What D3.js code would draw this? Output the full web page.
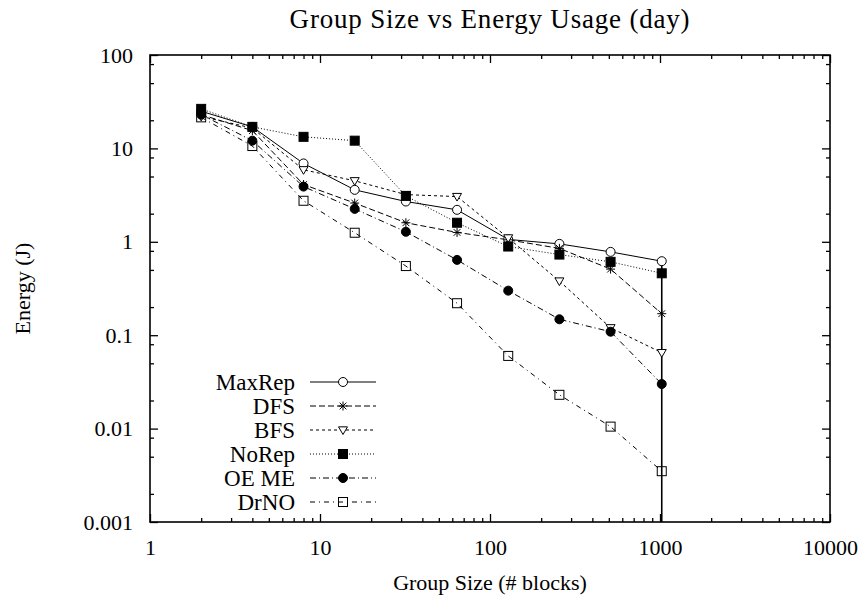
<!DOCTYPE html>
<meta charset="utf-8" />
<style>
  body { margin: 0; background: #fff; }
  svg { font-family: "Liberation Serif", "DejaVu Serif", serif; }
  .frame { fill: none; stroke: #000; stroke-width: 1.6; }
  .axis path { display: none; }
  .axis line { stroke: #000; stroke-width: 1.3; }
  .axis text { font-family: "Liberation Serif", serif; font-size: 22px; fill: #000; }
  .series { fill: none; stroke: #000; stroke-width: 1; }
</style>
<body>
  <div id="chart"></div>
  <script src="https://cdn.jsdelivr.net/npm/d3@7"></script>
  <script>
    // group sizes (# blocks) and energy per series (J)
    const groupSizes = [2, 4, 8, 16, 32, 64, 128, 256, 512, 1024];
    const maxRep = [25, 17, 6.9, 3.6, 2.7, 2.2, 1.06, 0.95, 0.78, 0.62];
    const dfs = [23, 15.5, 4.1, 2.6, 1.6, 1.26, 1.05, 0.85, 0.51, 0.17];
    const bfs = [22, 16.5, 5.9, 4.5, 3.2, 3.05, 1.1, 0.38, 0.12, 0.065];
    const noRep = [26.5, 17, 13.3, 12.1, 3.1, 1.6, 0.89, 0.73, 0.61, 0.46];
    const oeMe = [23, 12.1, 3.9, 2.25, 1.28, 0.64, 0.3, 0.148, 0.109, 0.03];
    const drNo = [21.5, 10.6, 2.75, 1.25, 0.55, 0.22, 0.06, 0.023, 0.0105, 0.0035];

    const xMajor = [1, 10, 100, 1000, 10000];
    const yMajor = [0.001, 0.01, 0.1, 1, 10, 100];
    const yLabels = ["0.001", "0.01", "0.1", "1", "10", "100"];

    const series = [
      { name: "MaxRep", values: maxRep, dash: null, marker: "circle" },
      { name: "DFS", values: dfs, dash: "6,3", marker: "star" },
      { name: "BFS", values: bfs, dash: "3,3", marker: "triangle" },
      { name: "NoRep", values: noRep, dash: "1,2", marker: "fsquare" },
      { name: "OE ME", values: oeMe, dash: "6,3,1,3", marker: "fcircle" },
      { name: "DrNO", values: drNo, dash: "5,4,1,4", marker: "square" },
    ];

    const width = 867, height = 599;
    const margin = { top: 55, right: 37, bottom: 77, left: 150 };
    const iw = width - margin.left - margin.right;
    const ih = height - margin.top - margin.bottom;

    const svg = d3.select("#chart").append("svg")
      .attr("width", width).attr("height", height);

    const x = d3.scaleLog().domain([1, 10000]).range([0, iw]);
    const y = d3.scaleLog().domain([0.001, 100]).range([ih, 0]);

    const g = svg.append("g").attr("transform", `translate(${margin.left},${margin.top})`);

    // minor ticks: x at 2..9, y at 2,5,8 of each decade
    const xMinor = [];
    for (let d = 1; d < 10000; d *= 10) for (let k = 2; k <= 9; k++) xMinor.push(d * k);
    const yMinor = [];
    for (let d = 0.001; d < 99; d *= 10) [2, 5, 8].forEach((k) => yMinor.push(+(d * k).toPrecision(3)));

    g.append("g").attr("class", "axis").attr("transform", `translate(0,${ih})`)
      .call(d3.axisBottom(x).tickValues(xMajor).tickSize(-8).tickPadding(17).tickFormat(d3.format("d")));
    g.append("g").attr("class", "axis").attr("transform", `translate(0,${ih})`)
      .call(d3.axisBottom(x).tickValues(xMinor).tickSize(-4).tickFormat(""));
    g.append("g").attr("class", "axis")
      .call(d3.axisTop(x).tickValues(xMajor).tickSize(-8).tickFormat(""));
    g.append("g").attr("class", "axis")
      .call(d3.axisTop(x).tickValues(xMinor).tickSize(-4).tickFormat(""));

    g.append("g").attr("class", "axis")
      .call(d3.axisLeft(y).tickValues(yMajor).tickSize(-8).tickPadding(17)
        .tickFormat((d, i) => yLabels[i]));
    g.append("g").attr("class", "axis")
      .call(d3.axisLeft(y).tickValues(yMinor).tickSize(-4).tickFormat(""));
    g.append("g").attr("class", "axis").attr("transform", `translate(${iw},0)`)
      .call(d3.axisRight(y).tickValues(yMajor).tickSize(-8).tickFormat(""));
    g.append("g").attr("class", "axis").attr("transform", `translate(${iw},0)`)
      .call(d3.axisRight(y).tickValues(yMinor).tickSize(-4).tickFormat(""));

    g.append("rect").attr("class", "frame").attr("width", iw).attr("height", ih);

    const drawMarker = (sel, type, cx, cy) => {
      const s = 4.5;
      if (type === "circle" || type === "fcircle") {
        sel.append("circle").attr("cx", cx).attr("cy", cy).attr("r", s)
          .attr("fill", type === "fcircle" ? "#000" : "#fff").attr("stroke", "#000");
      } else if (type === "square" || type === "fsquare") {
        sel.append("rect").attr("x", cx - s).attr("y", cy - s).attr("width", 2 * s).attr("height", 2 * s)
          .attr("fill", type === "fsquare" ? "#000" : "none").attr("stroke", "#000");
      } else if (type === "triangle") {
        sel.append("path")
          .attr("d", `M${cx - s},${cy - s * 0.7}L${cx + s},${cy - s * 0.7}L${cx},${cy + s}Z`)
          .attr("fill", "#fff").attr("stroke", "#000");
      } else if (type === "star") {
        sel.append("path")
          .attr("d", `M${cx - s},${cy}L${cx + s},${cy}M${cx},${cy - s}L${cx},${cy + s}` +
            `M${cx - s * 0.75},${cy - s * 0.75}L${cx + s * 0.75},${cy + s * 0.75}` +
            `M${cx - s * 0.75},${cy + s * 0.75}L${cx + s * 0.75},${cy - s * 0.75}`)
          .attr("fill", "none").attr("stroke", "#000");
      }
    };

    const line = d3.line().x((d) => x(d[0])).y((d) => y(d[1]));

    series.forEach((s) => {
      const pts = groupSizes.map((gs, i) => [gs, s.values[i]]);
      g.append("path").datum(pts).attr("class", "series").attr("d", line)
        .attr("stroke-dasharray", s.dash);
    });

    // drop from the last group size down to the axis
    const last = groupSizes[groupSizes.length - 1];
    g.append("line")
      .attr("x1", x(last)).attr("x2", x(last))
      .attr("y1", y(maxRep[maxRep.length - 1])).attr("y2", ih)
      .attr("stroke", "#000").attr("stroke-width", 1.6);

    series.forEach((s) => {
      const mg = g.append("g");
      groupSizes.forEach((gs, i) => drawMarker(mg, s.marker, x(gs), y(s.values[i])));
    });

    // legend
    const legend = g.append("g").attr("transform", "translate(145,327)");
    series.forEach((s, i) => {
      const ly = i * 24;
      legend.append("text").attr("x", 0).attr("y", ly).attr("dy", "0.35em")
        .attr("text-anchor", "end").attr("font-size", 23).text(s.name);
      legend.append("line").attr("class", "series")
        .attr("x1", 15).attr("x2", 81).attr("y1", ly).attr("y2", ly)
        .attr("stroke-dasharray", s.dash);
      drawMarker(legend, s.marker, 48, ly);
    });

    svg.append("text").attr("x", margin.left + iw / 2).attr("y", 28)
      .attr("text-anchor", "middle").attr("font-size", 27)
      .attr("letter-spacing", 0.8)
      .text("Group Size vs Energy Usage (day)");
    svg.append("text").attr("x", margin.left + iw / 2).attr("y", 590)
      .attr("text-anchor", "middle").attr("font-size", 22)
      .text("Group Size (# blocks)");
    svg.append("text").attr("transform", `translate(30,${margin.top + ih / 2}) rotate(-90)`)
      .attr("text-anchor", "middle").attr("font-size", 22)
      .text("Energy (J)");
  </script>
</body>
